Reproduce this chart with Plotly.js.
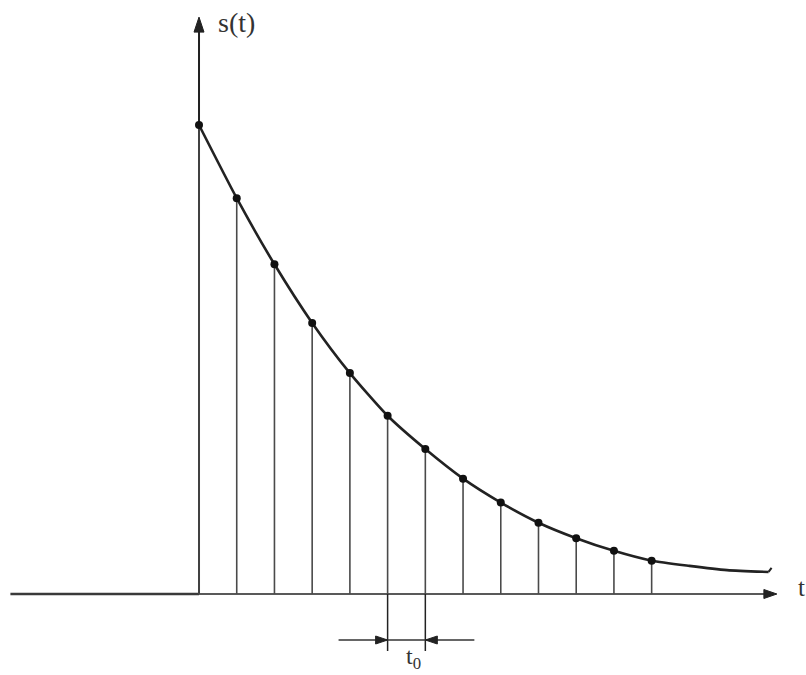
<!DOCTYPE html>
<html>
<head>
<meta charset="utf-8">
<script src="https://cdn.plot.ly/plotly-3.0.1.min.js"></script>
<style>
  html, body { margin: 0; padding: 0; background: #ffffff; }
  #chart { width: 806px; height: 675px; }
</style>
</head>
<body>
<div id="chart"></div>
<script>
// Sample instants, in units of the sampling period t0
const sampleTimes = [0, 1, 2, 3, 4, 5, 6, 7, 8, 9, 10, 11, 12];
// Sampled values s(n·t0), normalised to s(0) = 1
const sampleValues = [1.0, 0.844, 0.703, 0.578, 0.471, 0.380, 0.309, 0.246, 0.195, 0.152, 0.119, 0.092, 0.071];
// The continuous signal carries on past the last sample
const tailTimes = [13, 14, 15.1];
const tailValues = [0.060, 0.051, 0.047];
// The signal is zero before t = 0
const leadTimes = [-5, 0];
const leadValues = [0, 0];
// Axis extents (arrow tips)
const tAxisEnd = 15.32;
const sAxisEnd = 1.23;
// Interval marked as the sampling period
const markedInterval = [5, 6];
// Texts
const sLabel = 's(t)';
const tLabel = 't';
const t0Label = 't<sub>0</sub>';

const W = 806, H = 675;
const xRange = [-5.276, 16.092];
const yRange = [-0.1727, 1.2665];
const pxPerT = W / (xRange[1] - xRange[0]);
const pxPerS = H / (yRange[1] - yRange[0]);
// pixel offsets -> data offsets (screen y grows downward)
const dT = px => px / pxPerT;
const dS = py => -py / pxPerS;

const ink = '#222222';
const serif = 'Liberation Serif, Times New Roman, serif';

// filled arrowhead; dir is a unit vector in screen space
function arrowHead(tipT, tipS, dirX, dirY, len, halfW) {
  const bx = -dirX * len, by = -dirY * len;      // back from tip
  const nx = -dirY * halfW, ny = dirX * halfW;   // normal
  const p1 = [tipT + dT(bx + nx), tipS + dS(by + ny)];
  const p2 = [tipT + dT(bx - nx), tipS + dS(by - ny)];
  return {
    type: 'path', xref: 'x', yref: 'y', layer: 'above',
    path: `M${tipT},${tipS} L${p1[0]},${p1[1]} L${p2[0]},${p2[1]} Z`,
    fillcolor: ink, line: {color: ink, width: 1}
  };
}
function seg(t0, s0, t1, s1, width, color, layer) {
  return {type: 'line', xref: 'x', yref: 'y', x0: t0, y0: s0, x1: t1, y1: s1,
          layer: layer || 'below', line: {color: color || ink, width: width}};
}

// stems from the time axis up to every sample
const stemX = [], stemY = [];
sampleTimes.forEach((t, i) => { stemX.push(t, t, null); stemY.push(0, sampleValues[i], null); });

const traces = [
  { x: leadTimes, y: leadValues, mode: 'lines', hoverinfo: 'skip',
    line: {color: '#3a3a3a', width: 2.6} },
  { x: stemX, y: stemY, mode: 'lines', hoverinfo: 'skip',
    line: {color: '#4a4a4a', width: 1.6} },
  { x: sampleTimes.concat(tailTimes), y: sampleValues.concat(tailValues),
    mode: 'lines', hoverinfo: 'skip',
    line: {color: ink, width: 2.6, shape: 'spline', smoothing: 0.6} },
  { x: sampleTimes, y: sampleValues, mode: 'markers', hoverinfo: 'skip',
    marker: {color: '#111111', size: 8} }
];

const lastTail = tailTimes.length - 1;
const arrowY = dS(46);          // level of the t0 dimension arrows
const tickBottom = dS(57);
const shapes = [
  // time axis
  seg(0, 0, tAxisEnd - dT(10), 0, 1.6),
  arrowHead(tAxisEnd, 0, 1, 0, 13, 4.5),
  // value axis
  seg(0, 0, 0, sAxisEnd - dS(-12), 2),
  arrowHead(0, sAxisEnd, 0, -1, 15, 5),
  // small tick finishing the signal curve
  seg(tailTimes[lastTail], tailValues[lastTail], tailTimes[lastTail] + dT(3), tailValues[lastTail] + dS(-4), 2, ink, 'above'),
  // t0 dimension lines
  seg(markedInterval[0], 0, markedInterval[0], tickBottom, 1.5),
  seg(markedInterval[1], 0, markedInterval[1], tickBottom, 1.5),
  seg(markedInterval[0] - 1.3, arrowY, markedInterval[1] + 1.3, arrowY, 1.4, '#333333'),
  arrowHead(markedInterval[0], arrowY, 1, 0, 12, 4),
  arrowHead(markedInterval[1], arrowY, -1, 0, 12, 4)
];

const annotations = [
  { x: 1.0, y: 1.2175, xref: 'x', yref: 'y', text: sLabel, showarrow: false,
    xanchor: 'center', yanchor: 'middle', font: {family: serif, size: 28, color: '#333333'} },
  { x: 15.84, y: dS(-7), xref: 'x', yref: 'y', text: tLabel, showarrow: false,
    xanchor: 'left', yanchor: 'middle', font: {family: serif, size: 25, color: '#333333'} },
  { x: (markedInterval[0] + markedInterval[1]) / 2, y: dS(64), xref: 'x', yref: 'y',
    text: t0Label, showarrow: false, xshift: 7,
    xanchor: 'center', yanchor: 'middle', font: {family: serif, size: 24, color: '#333333'} }
];

const hidden = {visible: false, fixedrange: true};
const layout = {
  width: W, height: H,
  margin: {l: 0, r: 0, t: 0, b: 0, pad: 0},
  paper_bgcolor: '#ffffff', plot_bgcolor: '#ffffff',
  showlegend: false,
  xaxis: Object.assign({range: xRange}, hidden),
  yaxis: Object.assign({range: yRange}, hidden),
  shapes: shapes,
  annotations: annotations
};

Plotly.newPlot('chart', traces, layout, {displayModeBar: false, staticPlot: true});
</script>
</body>
</html>
